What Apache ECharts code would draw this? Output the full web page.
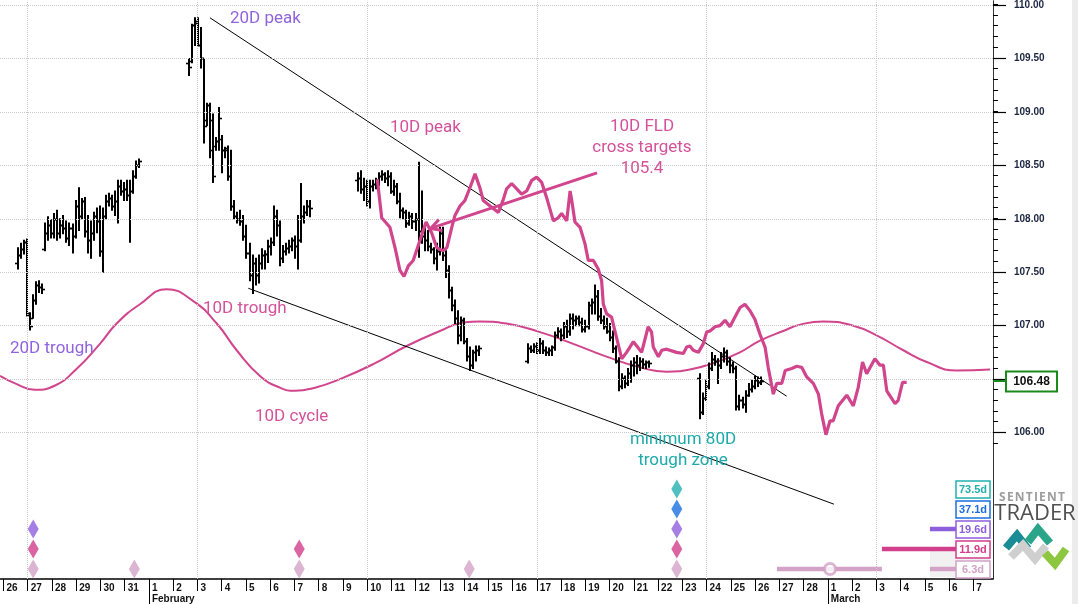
<!DOCTYPE html>
<html><head><meta charset="utf-8">
<script src="https://cdn.jsdelivr.net/npm/echarts@6/dist/echarts.min.js"></script>
<style>html,body{margin:0;padding:0;background:#fff}#c{width:1078px;height:604px}</style>
</head><body><div id="c"></div>
<script>
// ---------- DATA ----------
const dayLabels = ['26','27','28','29','30','31','1','2','3','4','5','6','7','8','9','10','11','12','13','14','15','16','17','18','19','20','21','22','23','24','25','26','27','28','1','2','3','4','5','6','7'];
const monthDays = [6, 34];
const monthNames = ['February', 'March'];
const priceLabels = [106, 106.5, 107, 107.5, 108, 108.5, 109, 109.5, 110];
const minorTicks = [105.9,106,106.1,106.2,106.3,106.4,106.5,106.6,106.7,106.8,106.9,107,107.1,107.2,107.3,107.4,107.5,107.6,107.7,107.8,107.9,108,108.1,108.2,108.3,108.4,108.5,108.6,108.7,108.8,108.9,109,109.1,109.2,109.3,109.4,109.5,109.6,109.7,109.8,109.9,110];
const weekGridDays = [1, 8, 15, 22, 29, 36];
const lastPrice = 106.48;

// OHLC bars [open, high, low, close], 8 bars per day, each block starts at its day
const barStep = 0.125;
const blockStarts = [0.60, 7.65, 14.62, 21.63, 28.73];
const block1 = [
[107.59,107.73,107.53,107.66],[107.66,107.77,107.63,107.72],[107.72,107.80,107.67,107.78],[107.78,107.81,107.09,107.12],
[107.10,107.12,106.96,107.00],[107.07,107.29,107.07,107.24],[107.24,107.41,107.20,107.38],[107.38,107.42,107.31,107.36],
[107.36,107.39,107.30,107.34],[107.72,107.96,107.70,107.87],[107.87,108.02,107.80,107.94],[107.94,107.99,107.82,107.87],
[107.87,108.05,107.82,108.00],[108.00,108.08,107.80,107.87],[107.87,108.00,107.82,107.94],[107.94,108.03,107.86,107.91],
[107.91,107.98,107.78,107.82],[107.82,107.96,107.75,107.91],[107.91,107.95,107.68,107.84],[107.84,108.17,107.82,108.12],
[108.12,108.29,107.89,108.03],[108.03,108.19,108.00,108.17],[108.17,108.20,107.83,107.89],[107.89,108.03,107.68,107.80],
[107.80,107.98,107.63,107.87],[107.87,108.06,107.80,108.03],[108.03,108.10,107.87,107.98],[107.98,108.12,107.65,107.70],
[107.70,108.10,107.50,108.03],[108.03,108.22,108.00,108.17],[108.17,108.24,108.12,108.19],[108.19,108.22,108.08,108.12],
[108.12,108.26,108.03,108.17],[108.17,108.36,107.96,108.31],[108.31,108.36,108.22,108.26],[108.26,108.34,108.17,108.28],
[108.28,108.36,108.17,108.22],[108.22,108.36,107.78,108.26],[108.26,108.45,108.24,108.40],[108.40,108.54,108.38,108.50],
[108.50,108.56,108.48,108.54]];
const block2 = [
[109.46,109.50,109.34,109.42],[109.48,109.82,109.46,109.81],[109.81,109.88,109.62,109.85],[109.83,109.88,109.62,109.63],
[109.63,109.79,109.41,109.50],[109.50,109.50,108.71,108.87],[108.92,109.08,108.87,109.06],[109.06,109.08,108.57,108.64],
[108.92,108.98,108.34,108.40],[108.68,108.76,108.64,108.73],[108.73,109.04,108.64,108.94],[108.75,108.78,108.43,108.64],
[108.64,108.67,108.57,108.66],[108.64,108.68,108.36,108.40],[108.40,108.64,108.08,108.12],[108.12,108.17,108.00,108.03],
[108.03,108.06,107.96,108.00],[108.00,108.08,107.94,107.98],[107.98,108.03,107.80,107.84],[107.84,107.94,107.63,107.68],
[107.68,107.77,107.42,107.47],[107.47,107.66,107.30,107.59],[107.59,107.63,107.38,107.47],[107.47,107.66,107.40,107.59],
[107.59,107.72,107.53,107.66],[107.66,107.70,107.53,107.67],[107.67,107.80,107.59,107.75],[107.75,107.82,107.66,107.78],
[107.78,108.12,107.75,108.03],[108.03,108.08,107.84,107.94],[107.94,107.98,107.56,107.63],[107.63,107.75,107.59,107.70],
[107.70,107.77,107.66,107.73],[107.73,107.80,107.68,107.75],[107.75,107.82,107.70,107.80],[107.80,107.84,107.63,107.75],
[107.75,108.03,107.53,107.80],[107.80,108.33,107.78,108.03],[108.03,108.12,107.96,108.06],[108.06,108.17,108.03,108.12],
[108.12,108.17,108.02,108.10]];
const block3 = [
[108.36,108.43,108.26,108.38],[108.38,108.45,108.24,108.28],[108.28,108.38,108.17,108.31],[108.31,108.36,108.12,108.17],
[108.17,108.36,108.10,108.31],[108.31,108.36,108.26,108.33],[108.33,108.38,108.28,108.36],[108.36,108.43,108.31,108.40],
[108.40,108.45,108.36,108.42],[108.42,108.43,108.34,108.38],[108.38,108.45,108.31,108.40],[108.40,108.43,108.24,108.26],
[108.26,108.36,108.22,108.31],[108.31,108.33,108.14,108.17],[108.17,108.24,108.01,108.08],[108.08,108.10,108.00,108.06],
[108.06,108.08,107.92,107.96],[107.96,108.06,107.94,108.03],[108.03,108.05,107.91,107.98],[107.98,108.05,107.89,108.00],
[108.00,108.53,107.64,107.89],[107.89,108.26,107.77,107.84],[107.84,107.94,107.70,107.80],[107.80,107.89,107.70,107.75],
[107.75,107.77,107.68,107.72],[107.72,107.73,107.58,107.63],[107.63,107.77,107.52,107.70],[107.70,107.92,107.66,107.87],
[107.87,107.92,107.61,107.66],[107.66,107.70,107.45,107.52],[107.52,107.56,107.26,107.33],[107.33,107.36,107.14,107.19],
[107.19,107.24,107.02,107.07],[107.07,107.14,106.83,106.91],[106.91,107.08,106.86,107.05],[107.05,107.07,106.83,106.86],
[106.86,106.88,106.67,106.72],[106.72,106.80,106.58,106.63],[106.63,106.77,106.60,106.75],[106.75,106.81,106.67,106.77],
[106.77,106.81,106.72,106.79]];
const block4 = [
[106.67,106.83,106.65,106.79],[106.79,106.81,106.75,106.77],[106.77,106.83,106.75,106.81],[106.81,106.84,106.74,106.77],
[106.77,106.88,106.74,106.84],[106.84,106.86,106.74,106.77],[106.77,106.80,106.72,106.75],[106.75,106.79,106.72,106.77],
[106.77,106.81,106.72,106.80],[106.80,106.94,106.77,106.91],[106.91,106.98,106.89,106.95],[106.95,106.97,106.86,106.91],
[106.91,107.03,106.88,107.00],[107.00,107.05,106.89,106.95],[106.95,107.11,106.91,107.07],[107.07,107.11,106.97,107.05],
[107.05,107.09,107.00,107.07],[107.07,107.09,107.00,107.03],[107.03,107.07,106.94,106.97],[106.97,107.05,106.94,107.00],
[107.00,107.22,106.97,107.19],[107.19,107.25,107.11,107.22],[107.22,107.38,107.11,107.28],[107.28,107.33,107.05,107.09],
[107.09,107.16,107.02,107.05],[107.05,107.09,106.97,107.00],[107.00,107.07,106.93,106.95],[106.95,107.02,106.86,106.89],
[106.89,106.95,106.75,106.79],[106.79,106.81,106.65,106.67],[106.67,106.70,106.39,106.44],[106.44,106.55,106.41,106.51],
[106.51,106.53,106.42,106.46],[106.46,106.60,106.44,106.56],[106.56,106.67,106.47,106.63],[106.63,106.70,106.53,106.66],
[106.66,106.72,106.55,106.63],[106.63,106.70,106.58,106.67],[106.67,106.69,106.60,106.64],[106.64,106.67,106.60,106.66],
[106.66,106.67,106.61,106.65]];
const block5 = [
[106.51,106.55,106.13,106.19],[106.19,106.37,106.17,106.32],[106.32,106.49,106.30,106.44],[106.44,106.65,106.41,106.60],
[106.60,106.75,106.58,106.69],[106.69,106.72,106.63,106.67],[106.67,106.69,106.46,106.63],[106.63,106.75,106.60,106.72],
[106.72,106.79,106.66,106.75],[106.75,106.77,106.63,106.67],[106.67,106.70,106.56,106.63],[106.63,106.66,106.56,106.60],
[106.60,106.62,106.21,106.25],[106.25,106.35,106.21,106.30],[106.30,106.33,106.23,106.27],[106.27,106.39,106.19,106.35],
[106.35,106.46,106.34,106.41],[106.41,106.49,106.38,106.44],[106.44,106.53,106.41,106.49],[106.49,106.52,106.43,106.47],
[106.47,106.52,106.45,106.48]];

// 10D FLD [day, price]
const fld = [
[15.42,108.37],[15.60,108.01],[15.94,107.92],[16.15,107.73],[16.35,107.52],[16.52,107.46],[16.70,107.56],[16.90,107.61],
[17.18,107.80],[17.43,107.97],[17.48,107.98],[17.66,107.87],[17.87,107.73],[18.13,107.70],[18.29,107.73],[18.49,107.92],
[18.62,108.03],[18.83,108.12],[19.03,108.17],[19.24,108.29],[19.45,108.42],[19.53,108.43],[19.65,108.29],[19.79,108.17],
[20.07,108.12],[20.41,108.06],[20.60,108.17],[20.75,108.28],[20.96,108.33],[21.17,108.28],[21.37,108.23],[21.58,108.26],
[21.79,108.36],[21.99,108.39],[22.20,108.34],[22.40,108.20],[22.68,107.98],[22.88,108.01],[23.02,108.05],[23.23,107.98],
[23.37,108.26],[23.44,108.17],[23.57,107.97],[23.78,107.92],[23.98,107.77],[24.12,107.61],[24.33,107.61],[24.53,107.53],
[24.67,107.42],[24.74,107.20],[24.88,107.11],[25.08,107.08],[25.22,106.95],[25.50,106.69],[25.70,106.75],[25.98,106.85],
[26.12,106.81],[26.32,106.75],[26.59,106.99],[26.73,106.94],[26.80,106.80],[27.01,106.71],[27.15,106.77],[27.35,106.78],
[27.76,106.75],[28.04,106.74],[28.18,106.80],[28.31,106.81],[28.45,106.77],[28.66,106.75],[28.86,106.83],[29.00,106.94],
[29.14,106.95],[29.35,106.99],[29.55,107.00],[29.76,107.05],[29.96,106.99],[30.17,107.08],[30.38,107.17],[30.58,107.20],
[30.79,107.14],[30.99,107.06],[31.20,106.92],[31.41,106.80],[31.54,106.61],[31.75,106.36],[31.89,106.46],[32.10,106.46],
[32.24,106.58],[32.51,106.60],[32.72,106.62],[32.92,106.61],[33.13,106.52],[33.40,106.46],[33.61,106.36],[33.74,106.18],
[33.92,105.98],[34.09,106.11],[34.22,106.11],[34.43,106.25],[34.78,106.35],[35.05,106.25],[35.25,106.42],[35.43,106.66],
[35.60,106.55],[35.94,106.69],[36.15,106.63],[36.29,106.63],[36.43,106.39],[36.77,106.27],[36.90,106.30],[37.08,106.47],
[37.25,106.47]];

// 10D cycle curve [day, price]
const cycle10 = [
[-0.14,106.53],[0.48,106.46],[1.30,106.40],[2.13,106.44],[2.95,106.58],[3.98,106.83],[4.67,107.02],[5.63,107.20],
[6.73,107.34],[7.83,107.23],[8.80,107.02],[9.62,106.77],[10.58,106.53],[11.41,106.42],[12.02,106.39],[12.85,106.42],
[13.88,106.50],[15.25,106.64],[16.63,106.81],[18.00,106.95],[18.96,107.03],[19.65,107.04],[20.75,107.02],[22.13,106.94],
[23.50,106.83],[24.87,106.71],[26.25,106.61],[27.35,106.57],[28.31,106.59],[29.41,106.66],[30.37,106.75],[31.20,106.86],
[32.16,106.95],[32.86,107.01],[33.81,107.04],[35.05,107.00],[36.01,106.91],[37.11,106.77],[38.08,106.66],[39.31,106.58],
[40.69,106.59]];

// trend lines and FLD target arrow
const upperTrend = [[8.52,109.88],[32.30,106.34]];
const lowerTrend = [[10.10,107.35],[34.25,105.33]];
const arrowLine = [[24.48,108.43,17.62,107.91]];

// cycle trough markers (day) per cycle row
const cycleRows = [
  {name:'73.5d', color:'#22b0b0', days:[27.77]},
  {name:'37.1d', color:'#1a6fe0', days:[27.77]},
  {name:'19.6d', color:'#8e5fdc', days:[1.23, 27.77]},
  {name:'11.9d', color:'#d23f8b', days:[1.23, 12.20, 27.77]},
  {name:'6.3d',  color:'#d2a3c7', days:[1.23, 5.40, 12.20, 19.21, 27.77]}
];
// projected trough bands: [row, fromDay, toDay]
const bands = [[2,38.21,40.69],[3,36.23,40.69],[4,31.90,36.23],[4,38.21,40.69]];
const bandCircles = [[34.09,4]];

// ---------- CHART ----------
const PINK = '#d1458c';
const barData = [];
[block1,block2,block3,block4,block5].forEach((blk,bi)=>{
  blk.forEach((b,i)=>barData.push([blockStarts[bi]+i*barStep, b[0], b[1], b[2], b[3]]));
});

const chart = echarts.init(document.getElementById('c'), null, {renderer:'canvas'});
const XMIN = -0.14, XMAX = 40.81;

function renderOHLC(params, api){
  const x = api.value(0);
  const pH = api.coord([x, api.value(2)]), pL = api.coord([x, api.value(3)]);
  const pO = api.coord([x, api.value(1)]), pC = api.coord([x, api.value(4)]);
  const px = Math.round(pH[0]);
  const st = {stroke:'#000', lineWidth:2};
  const yo = Math.round(pO[1]) + 0.5, yc = Math.round(pC[1]) + 0.5;
  return {type:'group', children:[
    {type:'line', shape:{x1:px, y1:pH[1]-0.5, x2:px, y2:pL[1]+0.5}, style:st},
    {type:'line', shape:{x1:px-3, y1:yo, x2:px, y2:yo}, style:{stroke:'#000', lineWidth:1.6}},
    {type:'line', shape:{x1:px, y1:yc, x2:px+3, y2:yc}, style:{stroke:'#000', lineWidth:1.6}}
  ]};
}
function renderArrow(params, api){
  const p1 = api.coord([api.value(0), api.value(1)]);
  const p2 = api.coord([api.value(2), api.value(3)]);
  const ang = Math.atan2(p2[1]-p1[1], p2[0]-p1[0]);
  const L = 12, a = 0.5;
  const h1 = [p2[0]-L*Math.cos(ang-a), p2[1]-L*Math.sin(ang-a)];
  const h2 = [p2[0]-L*Math.cos(ang+a), p2[1]-L*Math.sin(ang+a)];
  return {type:'group', children:[
    {type:'line', shape:{x1:p1[0],y1:p1[1],x2:p2[0],y2:p2[1]}, style:{stroke:PINK,lineWidth:3}},
    {type:'polyline', shape:{points:[h1,p2,h2]}, style:{stroke:PINK,lineWidth:3,fill:null}}
  ]};
}
function renderBand(params, api){
  const row = api.value(0);
  const p1 = api.coord([api.value(1), row + 0.5]);
  const p2 = api.coord([api.value(2), row + 0.5]);
  return {type:'line', shape:{x1:p1[0],y1:p1[1],x2:p2[0],y2:p2[1]},
    style:{stroke:cycleRows[row].color, lineWidth:4.5}};
}

const series = [];
series.push({
  type:'line', xAxisIndex:0, yAxisIndex:0, data:cycle10, smooth:0.5, showSymbol:false, z:2,
  lineStyle:{color:PINK, width:2}, silent:true,
  markLine:{silent:true, symbol:['none','none'], label:{show:false}, animation:false,
    lineStyle:{type:'dotted', color:'#c9c9c9', width:1},
    data: weekGridDays.map(d=>({xAxis:d})).concat(priceLabels.map(v=>({yAxis:v})))}
});
series.push({type:'line', xAxisIndex:0, yAxisIndex:0, data:upperTrend, showSymbol:false, z:3, lineStyle:{color:'#000', width:1}, silent:true});
series.push({type:'line', xAxisIndex:0, yAxisIndex:0, data:lowerTrend, showSymbol:false, z:3, lineStyle:{color:'#000', width:1}, silent:true});
series.push({type:'custom', xAxisIndex:0, yAxisIndex:0, data:barData, renderItem:renderOHLC, z:4, silent:true, encode:{x:0,y:[2,3]}});
series.push({type:'line', xAxisIndex:0, yAxisIndex:0, data:fld, showSymbol:false, z:5, lineStyle:{color:PINK, width:3.2}, silent:true});
series.push({type:'custom', xAxisIndex:0, yAxisIndex:0, data:arrowLine, renderItem:renderArrow, z:6, silent:true, encode:{x:[0,2],y:[1,3]}});
series.push({type:'custom', xAxisIndex:1, yAxisIndex:1, data:bands, renderItem:renderBand, z:3, silent:true, encode:{x:[1,2],y:0},
  markArea:{silent:true, itemStyle:{color:'#f1f1f1'}, data:[[{coord:[38.21,3.55]},{coord:[40.69,4.9]}]]}});
cycleRows.forEach((r,ri)=>{
  series.push({type:'scatter', xAxisIndex:1, yAxisIndex:1, symbol:'diamond', symbolSize:[11,19], z:4, silent:true,
    itemStyle:{color:r.color}, data:r.days.map(d=>[d, ri+0.5])});
});
series.push({type:'scatter', xAxisIndex:1, yAxisIndex:1, symbol:'circle', symbolSize:11, z:5, silent:true,
  itemStyle:{color:'#fff', borderColor:'#d2a3c7', borderWidth:3}, data:bandCircles.map(c=>[c[0], c[1]+0.5])});

const txt = (x,y,text,color,align)=>({type:'text', x:x, y:y, z:20, silent:true,
  style:{text:text, fill:color, font:'17px Roboto', textAlign:align||'left', textVerticalAlign:'middle'}});
const PURPLE = '#9163de', TEAL = '#1eaaaa', PTXT = '#d4529a';
const graphics = [
  {type:'rect', shape:{x:1072, y:0, width:6, height:604}, style:{fill:'#ececec'}, silent:true},
  txt(230,19,'20D peak',PURPLE),
  txt(390,128,'10D peak',PTXT),
  txt(642,127,'10D FLD',PTXT,'center'),
  txt(642,148,'cross targets',PTXT,'center'),
  txt(642,169,'105.4',PTXT,'center'),
  txt(203,309,'10D trough',PTXT),
  txt(10,349,'20D trough',PURPLE),
  txt(255,417,'10D cycle',PTXT),
  txt(683,440,'minimum 80D',TEAL,'center'),
  txt(683,461,'trough zone',TEAL,'center'),
  {type:'line', shape:{x1:993, y1:381, x2:1006, y2:381}, style:{stroke:'#1a8a1a', lineWidth:2}, silent:true, z:20},
  {type:'rect', shape:{x:1006, y:371.5, width:51, height:20}, style:{fill:'#fff', stroke:'#1a8a1a', lineWidth:2}, silent:true, z:20},
  {type:'text', x:1031.5, y:382, z:21, silent:true, style:{text:lastPrice.toFixed(2), fill:'#111', font:'bold 12px "Liberation Sans"', textAlign:'center', textVerticalAlign:'middle'}},
  {type:'text', x:1032, y:498, silent:true, style:{text:'S\u200AE\u200AN\u200AT\u200AI\u200AE\u200AN\u200AT', fill:'#9d9d9d', font:'bold 12px "Open Sans"', textAlign:'center', textVerticalAlign:'middle'}},
  {type:'text', x:1035, y:514, silent:true, style:{text:'TRADER', fill:'#505050', font:'22px "Open Sans"', textAlign:'center', textVerticalAlign:'middle'}},
  {type:'polyline', shape:{points:[[1006,548],[1017,535],[1028,549]]}, style:{stroke:'#1a8c96', lineWidth:8, fill:null}, silent:true},
  {type:'polyline', shape:{points:[[1011,557],[1023,545],[1035,559],[1046,546]]}, style:{stroke:'#cfcfcf', lineWidth:8, fill:null}, silent:true},
  {type:'polyline', shape:{points:[[1028,542],[1038,529],[1050,543]]}, style:{stroke:'#2ba58a', lineWidth:8, fill:null}, silent:true},
  {type:'polyline', shape:{points:[[1045,553],[1055,564],[1066,549]]}, style:{stroke:'#8dc63f', lineWidth:8, fill:null}, silent:true}
];
cycleRows.forEach((r,ri)=>{
  const yc = 489 + ri*20;
  graphics.push({type:'rect', shape:{x:956, y:yc-8, width:34, height:17}, style:{fill:'#fff', stroke:r.color, lineWidth:1.5}, silent:true, z:20});
  graphics.push({type:'text', x:973, y:yc+0.5, z:21, silent:true, style:{text:r.name, fill:r.color, font:'bold 11px "Liberation Sans"', textAlign:'center', textVerticalAlign:'middle'}});
});

const dayTicks = dayLabels.map((_,i)=>i);
const mainGrid = {left:0, right:85, top:0, bottom:25};
const labelFont = {color:'#111', fontSize:10, fontWeight:'bold', fontFamily:'Liberation Sans'};
chart.setOption({
  animation:false,
  backgroundColor:'#fff',
  grid:[ mainGrid, {left:0, right:85, top:479, height:100}, Object.assign({}, mainGrid), Object.assign({}, mainGrid) ],
  xAxis:[
    {type:'value', gridIndex:0, min:XMIN, max:XMAX, position:'bottom',
      axisLine:{show:true, onZero:false, lineStyle:{color:'#000', width:1.5}},
      axisTick:{show:true, customValues:dayTicks, length:12, lineStyle:{color:'#000', width:1}},
      axisLabel:Object.assign({show:true, customValues:dayTicks, formatter:v=>dayLabels[Math.round(v)], align:'left', padding:[0,0,0,3], margin:4}, labelFont),
      splitLine:{show:false}},
    {type:'value', gridIndex:1, min:XMIN, max:XMAX, show:false, axisLine:{onZero:false}},
    {type:'value', gridIndex:2, min:XMIN, max:XMAX, show:false, axisLine:{onZero:false}},
    {type:'value', gridIndex:3, min:XMIN, max:XMAX, position:'bottom',
      axisLine:{show:false, onZero:false},
      axisTick:{show:true, customValues:monthDays, length:25, lineStyle:{color:'#000', width:1}},
      axisLabel:Object.assign({show:true, customValues:monthDays, formatter:v=>monthNames[monthDays.indexOf(Math.round(v))], align:'left', padding:[0,0,0,3], margin:15}, labelFont),
      splitLine:{show:false}}
  ],
  yAxis:[
    {type:'value', gridIndex:0, min:104.63, max:110.04, position:'right',
      axisLine:{show:true, onZero:false, lineStyle:{color:'#333', width:1}},
      axisTick:{show:true, customValues:priceLabels, length:13, lineStyle:{color:'#000', width:1.2}},
      axisLabel:Object.assign({show:true, customValues:priceLabels, formatter:v=>v.toFixed(2), margin:21}, labelFont, {color:'#1b2440'}),
      splitLine:{show:false}},
    {type:'value', gridIndex:1, min:0, max:5, inverse:true, show:false, axisLine:{onZero:false}},
    {type:'value', gridIndex:2, min:104.63, max:110.04, position:'right',
      axisLine:{show:false, onZero:false},
      axisTick:{show:true, customValues:minorTicks, length:5, lineStyle:{color:'#000'}},
      axisLabel:{show:false}, splitLine:{show:false}},
    {type:'value', gridIndex:3, min:104.63, max:110.04, show:false, axisLine:{onZero:false}}
  ],
  series: series,
  graphic: graphics
});
</script>
</body></html>
